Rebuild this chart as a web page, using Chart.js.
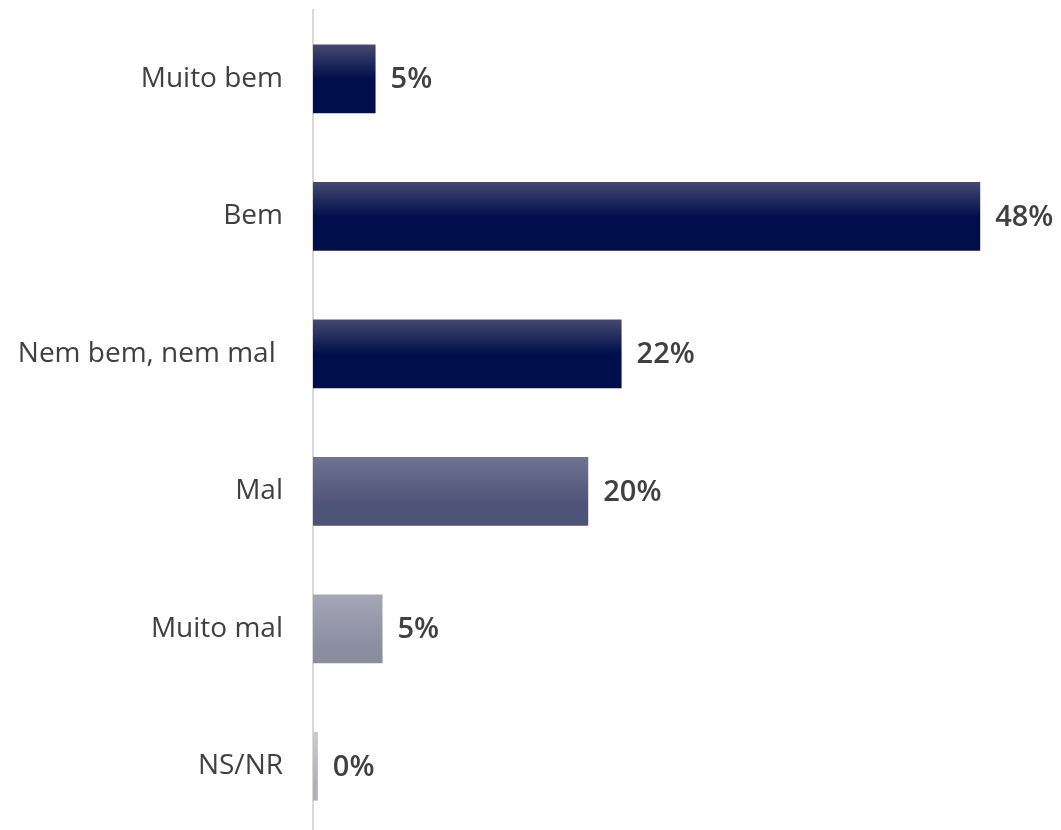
<!DOCTYPE html>
<html>
<head>
<meta charset="utf-8">
<script src="https://cdn.jsdelivr.net/npm/chart.js@4"></script>
<style>
  html, body { margin: 0; padding: 0; background: #ffffff; overflow: hidden; }
  #wrap { width: 1061px; height: 836px; }
</style>
</head>
<body>
<div id="wrap"><canvas id="c" width="1061" height="836"></canvas></div>
<script>
const categories = ["Muito bem", "Bem", "Nem bem, nem mal ", "Mal", "Muito mal", "NS/NR"];
const values = [4.5, 48, 22.2, 19.8, 5, 0.35];
const valueLabels = ["5%", "48%", "22%", "20%", "5%", "0%"];
const topColors = ["#45496f", "#45496f", "#45496f", "#6f7391", "#a5a7b7", "#c9c9d3"];
const bottomColors = ["#000f4c", "#000f4c", "#000f4c", "#4e5378", "#8a8ca0", "#afafbc"];
const gradientStops = [0.5, 0.5, 0.5, 0.7, 0.8, 0.8];

const FONT = "'Open Sans', 'DejaVu Sans', sans-serif";

const valueLabelPlugin = {
  id: 'valueLabels',
  afterDatasetsDraw(chart) {
    const ctx = chart.ctx;
    const meta = chart.getDatasetMeta(0);
    ctx.save();
    ctx.font = "600 29px " + FONT;
    ctx.fillStyle = "#404040";
    ctx.textAlign = "left";
    ctx.textBaseline = "middle";
    meta.data.forEach((bar, i) => {
      ctx.fillText(valueLabels[i], bar.x + 15, bar.y + 1);
    });
    ctx.restore();
  }
};

function barGradient(context) {
  const chart = context.chart;
  const i = context.dataIndex;
  if (i === undefined) return bottomColors[0];
  const yScale = chart.scales.y;
  const center = yScale ? yScale.getPixelForValue(i) : NaN;
  if (!isFinite(center)) return bottomColors[i];
  const half = 34;
  const g = chart.ctx.createLinearGradient(0, center - half, 0, center + half);
  g.addColorStop(0, topColors[i]);
  g.addColorStop(gradientStops[i], bottomColors[i]);
  g.addColorStop(1, bottomColors[i]);
  return g;
}

new Chart(document.getElementById('c'), {
  type: 'bar',
  data: {
    labels: categories,
    datasets: [{
      data: values,
      backgroundColor: barGradient,
      borderWidth: 0,
      barPercentage: 0.5,
      categoryPercentage: 1.0
    }]
  },
  options: {
    indexAxis: 'y',
    responsive: false,
    animation: false,
    devicePixelRatio: 1,
    layout: { padding: { top: 10, bottom: 1, right: 53, left: 0 } },
    plugins: { legend: { display: false }, tooltip: { enabled: false } },
    scales: {
      x: { display: false, min: 0, max: 50 },
      y: {
        afterFit(scale) { scale.width = 313; scale.paddingTop = 0; scale.paddingBottom = 0; },
        grid: { display: true, drawOnChartArea: false, drawTicks: false, color: 'rgba(0,0,0,0)' },
        border: { display: true, color: '#d9d9d9', width: 2 },
        ticks: { color: '#404040', padding: 30, font: { family: FONT, size: 28 } }
      }
    }
  },
  plugins: [valueLabelPlugin]
});
</script>
</body>
</html>
